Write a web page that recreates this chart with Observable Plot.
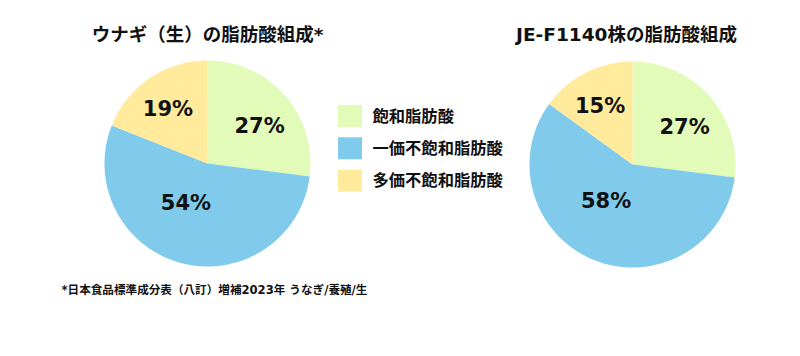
<!DOCTYPE html>
<html><head><meta charset="utf-8">
<script src="https://cdn.jsdelivr.net/npm/d3@7"></script>
<script src="https://cdn.jsdelivr.net/npm/@observablehq/plot@0.6"></script>
<style>
body{margin:0;background:#fff;}
#chart svg{display:block;font-family:"DejaVu Sans","Noto Sans CJK JP",sans-serif;}
</style></head>
<body><div id="chart"></div>
<script>
const categories = ["飽和脂肪酸", "一価不飽和脂肪酸", "多価不飽和脂肪酸"];
const eelValues = [27, 54, 19];
const strainValues = [27, 58, 15];
const chartTitles = ["ウナギ（生）の脂肪酸組成*", "JE-F1140株の脂肪酸組成"];
const footnote = "*日本食品標準成分表（八訂）増補2023年 うなぎ/養殖/生";
const colors = ["#e2fbb8", "#80caeb", "#ffeb9b"];

const W = 800, H = 356, R = 103;
const FONT = "DejaVu Sans, Noto Sans CJK JP, sans-serif";
const pies = [
  {values: eelValues, title: chartTitles[0], cx: 207, cy: 163, tx: 207},
  {values: strainValues, title: chartTitles[1], cx: 632, cy: 164, tx: 626}
];
// label placement rule per slice kind: radius fraction and angular nudge (deg)
const labelRule = [{r: 0.62, nudge: 6}, {r: 0.44, nudge: 14}, {r: 0.65, nudge: -2}];

const slicePts = [], labels = [], titles = [];
pies.forEach((p, pi) => {
  const arcs = d3.pie().sort(null)(p.values);
  arcs.forEach((a, i) => {
    const id = pi + "-" + i;
    slicePts.push({x: p.cx, y: p.cy, cat: categories[i], id});
    const n = Math.max(2, Math.ceil((a.endAngle - a.startAngle) / 0.01));
    for (let k = 0; k <= n; k++) {
      const t = a.startAngle + (a.endAngle - a.startAngle) * k / n;
      slicePts.push({x: p.cx + R * Math.sin(t), y: p.cy - R * Math.cos(t), cat: categories[i], id});
    }
    const mid = (a.startAngle + a.endAngle) / 2 + labelRule[i].nudge * Math.PI / 180;
    const lr = R * labelRule[i].r;
    labels.push({x: p.cx + lr * Math.sin(mid), y: p.cy - lr * Math.cos(mid), text: p.values[i] + "%"});
  });
  titles.push({x: p.tx, y: 35, text: p.title});
});

const legend = categories.map((c, i) => ({cat: c, x1: 338, x2: 362, y1: 105 + 32.3 * i, y2: 127 + 32.3 * i, tx: 372, ty: 116 + 32.3 * i}));

const chart = Plot.plot({
  width: W, height: H, margin: 0,
  x: {domain: [0, W], range: [0, W], axis: null},
  y: {domain: [0, H], range: [0, H], axis: null},
  color: {domain: categories, range: colors},
  marks: [
    Plot.line(slicePts, {x: "x", y: "y", z: "id", fill: "cat", stroke: null, curve: "linear"}),
    Plot.text(labels, {x: "x", y: "y", text: "text", fontSize: 21, fontWeight: "bold", fill: "#111", fontFamily: FONT}),
    Plot.text(titles, {x: "x", y: "y", text: "text", fontSize: 18.5, fontWeight: "bold", fill: "#111", fontFamily: FONT}),
    Plot.rect(legend, {x1: "x1", x2: "x2", y1: "y1", y2: "y2", fill: "cat"}),
    Plot.text(legend, {x: "tx", y: "ty", text: "cat", textAnchor: "start", fontSize: 16.3, fontWeight: "bold", fill: "#111", fontFamily: FONT}),
    Plot.text([footnote], {x: 61, y: 290, text: d => d, textAnchor: "start", fontSize: 11.6, fontWeight: "bold", fill: "#111", fontFamily: FONT})
  ]
});
document.getElementById("chart").append(chart);
</script></body></html>
